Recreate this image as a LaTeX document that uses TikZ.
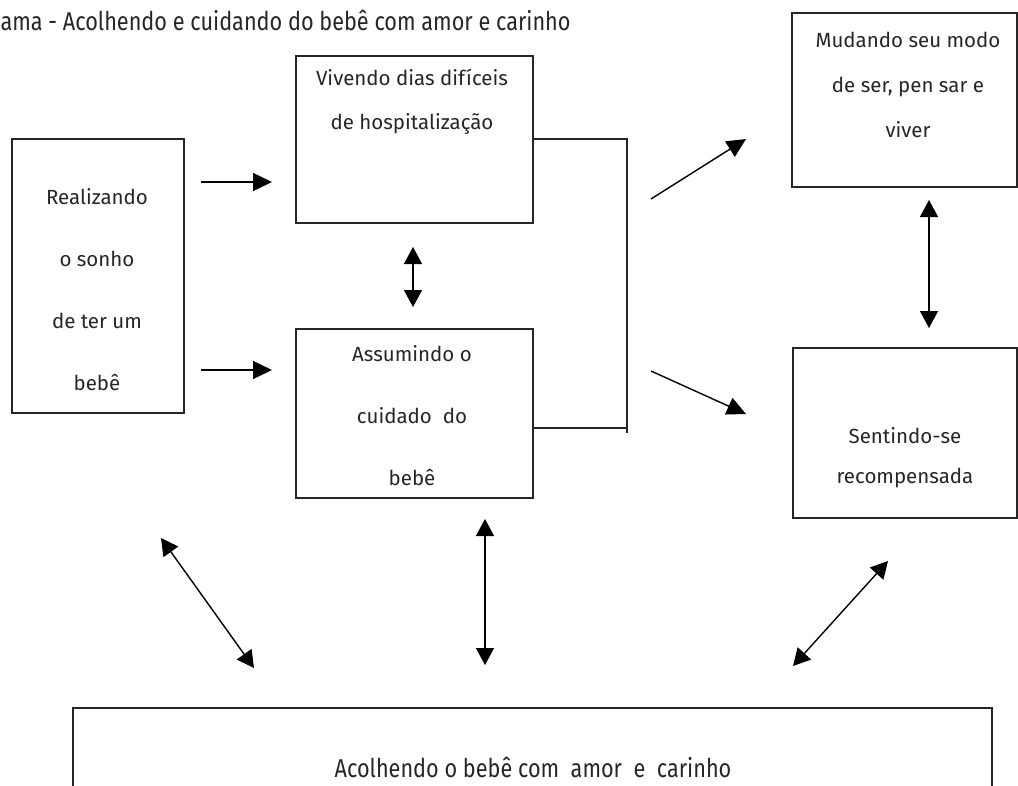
\documentclass[tikz,border=0pt]{standalone}
\usepackage{fontspec}
\setmainfont{Fira Sans}
\newfontfamily\condfont[FakeStretch=0.84]{Fira Sans}
\usetikzlibrary{arrows.meta}

\begin{document}
\begin{tikzpicture}[x=1pt, y=-1pt]
		\tikzset{bx/.style={rectangle, draw=black!85, line width=1.3pt, inner sep=0pt},
			tx/.style={align=center, font=\fontsize{20.5}{25}\selectfont, text=black!85},
			ct/.style={font=\condfont\fontsize{25.8}{30}\selectfont, text=black!85},
			ar/.style={line width=1.4pt, -{Triangle[length=19pt, width=18pt]}},
			dar/.style={line width=1.4pt, {Triangle[length=17pt, width=18pt]}-{Triangle[length=17pt, width=18pt]}}};
		\clip (0,0) rectangle (1018,785);
		\fill[white] (0,0) rectangle (1018,785);

		\node[ct, anchor=base west] (tit) at (-3,30) {ama - Acolhendo e cuidando do bebê com amor e carinho};

		\node[bx, minimum width=172pt, minimum height=274pt] (real) at (98,276) {};
		\node[bx, minimum width=237pt, minimum height=167pt] (viv) at (414.5,139.5) {};
		\node[bx, minimum width=237pt, minimum height=169pt] (ass) at (414.5,413.5) {};
		\node[bx, minimum width=225pt, minimum height=174pt] (mud) at (904.5,100) {};
		\node[bx, minimum width=224pt, minimum height=170pt] (sen) at (905,433) {};
		\node[bx, minimum width=919pt, minimum height=100pt] (aco) at (532.5,758) {};

		\node[tx] (realT) at (97,290) {Realizando\\[37pt] o sonho\\[37pt]de ter um\\[37pt]bebê};
		\node[tx] (vivT) at (412,102) {Vivendo dias difíceis\\[19pt]de hospitalização};
		\node[tx] (assT) at (412,416) {Assumindo o\\[37pt]cuidado\ \ do\\[37pt]bebê};
		\node[tx] (mudT) at (908,85) {Mudando seu modo\\[20pt]de ser, pen sar e\\[20pt]viver};
		\node[tx] (senT) at (905,458) {Sentindo-se\\[15pt]recompensada};
		\node[ct] (acoT) at (533,767) {Acolhendo o bebê com\ \ amor\ \ e\ \ carinho};

		\coordinate (bt) at (627,139);
		\coordinate (bb) at (627,433);
		\coordinate (bj) at (627,428);
		\draw[line width=1.3pt, black!85] (viv.east |- bt) -- (bt) -- (bb);
		\draw[line width=1.3pt, black!85] (ass.east |- bj) -- (bj);

		\coordinate (a1s) at (201,182);
		\coordinate (a1e) at (272,182);
		\coordinate (a2s) at (201,370);
		\coordinate (a2e) at (272,370);
		\coordinate (a3s) at (413,247);
		\coordinate (a3e) at (413,307);
		\coordinate (a4s) at (651,199);
		\coordinate (a4e) at (746,139);
		\coordinate (a5s) at (651,371);
		\coordinate (a5e) at (746,414);
		\coordinate (a6s) at (929,200);
		\coordinate (a6e) at (929,328);
		\coordinate (a7s) at (161,538);
		\coordinate (a7e) at (254,668);
		\coordinate (a8s) at (485,519);
		\coordinate (a8e) at (485,665);
		\coordinate (a9s) at (888,561);
		\coordinate (a9e) at (793,666);

		\draw[ar] (a1s) -- (a1e);
		\draw[ar] (a2s) -- (a2e);
		\draw[dar] (a3s) -- (a3e);
		\draw[ar] (a4s) -- (a4e);
		\draw[ar] (a5s) -- (a5e);
		\draw[dar] (a6s) -- (a6e);
		\draw[dar] (a7s) -- (a7e);
		\draw[dar] (a8s) -- (a8e);
		\draw[dar] (a9s) -- (a9e);

	\end{tikzpicture}
\end{document}
